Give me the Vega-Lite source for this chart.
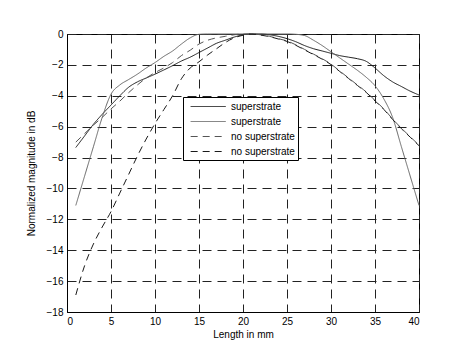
{
  "$schema": "https://vega.github.io/schema/vega-lite/v6.json",
  "width": 352,
  "height": 278,
  "autosize": {"type": "none"},
  "padding": {"left": 67, "top": 34, "right": 40, "bottom": 34},
  "background": "white",
  "config": {
    "view": {"stroke": "black", "strokeWidth": 1},
    "font": "Liberation Sans",
    "axis": {
      "labelFont": "Liberation Sans",
      "labelFontSize": 10,
      "labelColor": "black",
      "titleFont": "Liberation Sans",
      "titleFontSize": 10,
      "titleFontWeight": "normal",
      "titleColor": "black",
      "domainColor": "black",
      "ticks": false,
      "grid": true,
      "gridColor": "#222",
      "gridDash": [9, 6],
      "gridWidth": 1,
      "gridOpacity": 1
    },
    "legend": {
      "orient": "none", "legendX": 116, "legendY": 63, "title": null,
      "symbolType": "M-1,0H5", "symbolSize": 136, "symbolStrokeWidth": 1, "symbolOffset": 4,
      "labelFont": "Liberation Sans", "labelFontSize": 10, "labelColor": "black",
      "strokeColor": "black", "fillColor": "white", "padding": 3, "rowPadding": 3, "labelOffset": 28,
      "labelExpr": "trim(datum.label) + '\u2800\u2800'"
    }
  },
  "data": {
    "values": [
      {"x": 1, "y": -7.35, "s": "superstrate"},
      {"x": 2, "y": -6.6, "s": "superstrate"},
      {"x": 3, "y": -5.85, "s": "superstrate"},
      {"x": 4, "y": -5.2, "s": "superstrate"},
      {"x": 5, "y": -4.6, "s": "superstrate"},
      {"x": 6, "y": -4.0, "s": "superstrate"},
      {"x": 7, "y": -3.45, "s": "superstrate"},
      {"x": 8, "y": -3.1, "s": "superstrate"},
      {"x": 9, "y": -2.85, "s": "superstrate"},
      {"x": 10, "y": -2.6, "s": "superstrate"},
      {"x": 11, "y": -2.33, "s": "superstrate"},
      {"x": 12, "y": -2.05, "s": "superstrate"},
      {"x": 13, "y": -1.75, "s": "superstrate"},
      {"x": 14, "y": -1.5, "s": "superstrate"},
      {"x": 15, "y": -1.2, "s": "superstrate"},
      {"x": 16, "y": -0.9, "s": "superstrate"},
      {"x": 17, "y": -0.6, "s": "superstrate"},
      {"x": 18, "y": -0.4, "s": "superstrate"},
      {"x": 19, "y": -0.2, "s": "superstrate"},
      {"x": 20, "y": -0.05, "s": "superstrate"},
      {"x": 21, "y": 0, "s": "superstrate"},
      {"x": 22, "y": 0, "s": "superstrate"},
      {"x": 23, "y": -0.05, "s": "superstrate"},
      {"x": 24, "y": -0.15, "s": "superstrate"},
      {"x": 25, "y": -0.3, "s": "superstrate"},
      {"x": 26, "y": -0.5, "s": "superstrate"},
      {"x": 27, "y": -0.75, "s": "superstrate"},
      {"x": 28, "y": -0.95, "s": "superstrate"},
      {"x": 29, "y": -1.1, "s": "superstrate"},
      {"x": 30, "y": -1.25, "s": "superstrate"},
      {"x": 31, "y": -1.4, "s": "superstrate"},
      {"x": 32, "y": -1.5, "s": "superstrate"},
      {"x": 33, "y": -1.6, "s": "superstrate"},
      {"x": 34, "y": -1.77, "s": "superstrate"},
      {"x": 35, "y": -2.2, "s": "superstrate"},
      {"x": 36, "y": -2.7, "s": "superstrate"},
      {"x": 37, "y": -3.1, "s": "superstrate"},
      {"x": 38, "y": -3.4, "s": "superstrate"},
      {"x": 39, "y": -3.7, "s": "superstrate"},
      {"x": 40, "y": -3.95, "s": "superstrate"},

      {"x": 1, "y": -11.1, "s": "superstrate "},
      {"x": 2, "y": -9.2, "s": "superstrate "},
      {"x": 3, "y": -7.3, "s": "superstrate "},
      {"x": 4, "y": -5.4, "s": "superstrate "},
      {"x": 5, "y": -3.9, "s": "superstrate "},
      {"x": 6, "y": -3.3, "s": "superstrate "},
      {"x": 7, "y": -2.95, "s": "superstrate "},
      {"x": 8, "y": -2.6, "s": "superstrate "},
      {"x": 9, "y": -2.2, "s": "superstrate "},
      {"x": 10, "y": -1.85, "s": "superstrate "},
      {"x": 11, "y": -1.45, "s": "superstrate "},
      {"x": 12, "y": -1.1, "s": "superstrate "},
      {"x": 13, "y": -0.65, "s": "superstrate "},
      {"x": 14, "y": -0.25, "s": "superstrate "},
      {"x": 15, "y": -0.02, "s": "superstrate "},
      {"x": 16, "y": 0, "s": "superstrate "},
      {"x": 20, "y": 0, "s": "superstrate "},
      {"x": 25, "y": 0, "s": "superstrate "},
      {"x": 26, "y": -0.02, "s": "superstrate "},
      {"x": 27, "y": -0.1, "s": "superstrate "},
      {"x": 28, "y": -0.4, "s": "superstrate "},
      {"x": 29, "y": -0.75, "s": "superstrate "},
      {"x": 30, "y": -1.15, "s": "superstrate "},
      {"x": 31, "y": -1.55, "s": "superstrate "},
      {"x": 32, "y": -1.95, "s": "superstrate "},
      {"x": 33, "y": -2.35, "s": "superstrate "},
      {"x": 34, "y": -2.8, "s": "superstrate "},
      {"x": 35, "y": -3.35, "s": "superstrate "},
      {"x": 36, "y": -4.2, "s": "superstrate "},
      {"x": 37, "y": -5.4, "s": "superstrate "},
      {"x": 38, "y": -7.3, "s": "superstrate "},
      {"x": 39, "y": -9.2, "s": "superstrate "},
      {"x": 40, "y": -11.1, "s": "superstrate "},

      {"x": 1, "y": -7.0, "s": "no superstrate"},
      {"x": 2, "y": -6.45, "s": "no superstrate"},
      {"x": 3, "y": -5.9, "s": "no superstrate"},
      {"x": 4, "y": -5.4, "s": "no superstrate"},
      {"x": 5, "y": -4.85, "s": "no superstrate"},
      {"x": 6, "y": -4.35, "s": "no superstrate"},
      {"x": 7, "y": -3.8, "s": "no superstrate"},
      {"x": 8, "y": -3.3, "s": "no superstrate"},
      {"x": 9, "y": -2.85, "s": "no superstrate"},
      {"x": 10, "y": -2.5, "s": "no superstrate"},
      {"x": 11, "y": -2.2, "s": "no superstrate"},
      {"x": 12, "y": -1.85, "s": "no superstrate"},
      {"x": 13, "y": -1.4, "s": "no superstrate"},
      {"x": 14, "y": -1.05, "s": "no superstrate"},
      {"x": 15, "y": -0.65, "s": "no superstrate"},
      {"x": 16, "y": -0.4, "s": "no superstrate"},
      {"x": 17, "y": -0.25, "s": "no superstrate"},
      {"x": 18, "y": -0.15, "s": "no superstrate"},
      {"x": 19, "y": -0.05, "s": "no superstrate"},
      {"x": 20, "y": 0, "s": "no superstrate"},
      {"x": 21, "y": 0, "s": "no superstrate"},
      {"x": 22, "y": -0.05, "s": "no superstrate"},
      {"x": 23, "y": -0.15, "s": "no superstrate"},
      {"x": 24, "y": -0.3, "s": "no superstrate"},
      {"x": 25, "y": -0.45, "s": "no superstrate"},
      {"x": 26, "y": -0.7, "s": "no superstrate"},
      {"x": 27, "y": -1.0, "s": "no superstrate"},
      {"x": 28, "y": -1.3, "s": "no superstrate"},
      {"x": 29, "y": -1.6, "s": "no superstrate"},
      {"x": 30, "y": -1.95, "s": "no superstrate"},
      {"x": 31, "y": -2.4, "s": "no superstrate"},
      {"x": 32, "y": -2.85, "s": "no superstrate"},
      {"x": 33, "y": -3.3, "s": "no superstrate"},
      {"x": 34, "y": -3.75, "s": "no superstrate"},
      {"x": 35, "y": -4.3, "s": "no superstrate"},
      {"x": 36, "y": -4.85, "s": "no superstrate"},
      {"x": 37, "y": -5.5, "s": "no superstrate"},
      {"x": 38, "y": -6.1, "s": "no superstrate"},
      {"x": 39, "y": -6.65, "s": "no superstrate"},
      {"x": 40, "y": -7.2, "s": "no superstrate"},

      {"x": 1, "y": -16.9, "s": "no superstrate "},
      {"x": 2, "y": -15.0, "s": "no superstrate "},
      {"x": 3, "y": -13.6, "s": "no superstrate "},
      {"x": 4, "y": -12.5, "s": "no superstrate "},
      {"x": 5, "y": -11.5, "s": "no superstrate "},
      {"x": 6, "y": -10.3, "s": "no superstrate "},
      {"x": 7, "y": -9.1, "s": "no superstrate "},
      {"x": 8, "y": -7.9, "s": "no superstrate "},
      {"x": 9, "y": -6.8, "s": "no superstrate "},
      {"x": 10, "y": -5.8, "s": "no superstrate "},
      {"x": 11, "y": -4.9, "s": "no superstrate "},
      {"x": 12, "y": -4.0, "s": "no superstrate "},
      {"x": 13, "y": -2.9, "s": "no superstrate "},
      {"x": 14, "y": -2.2, "s": "no superstrate "},
      {"x": 15, "y": -1.8, "s": "no superstrate "},
      {"x": 16, "y": -1.35, "s": "no superstrate "},
      {"x": 17, "y": -0.95, "s": "no superstrate "},
      {"x": 18, "y": -0.55, "s": "no superstrate "},
      {"x": 19, "y": -0.25, "s": "no superstrate "},
      {"x": 20, "y": -0.08, "s": "no superstrate "},
      {"x": 21, "y": 0, "s": "no superstrate "},
      {"x": 22, "y": -0.07, "s": "no superstrate "},
      {"x": 23, "y": -0.17, "s": "no superstrate "},
      {"x": 24, "y": -0.32, "s": "no superstrate "},
      {"x": 25, "y": -0.48, "s": "no superstrate "},
      {"x": 26, "y": -0.73, "s": "no superstrate "},
      {"x": 27, "y": -1.03, "s": "no superstrate "},
      {"x": 28, "y": -1.33, "s": "no superstrate "},
      {"x": 29, "y": -1.63, "s": "no superstrate "},
      {"x": 30, "y": -1.98, "s": "no superstrate "},
      {"x": 31, "y": -2.43, "s": "no superstrate "},
      {"x": 32, "y": -2.88, "s": "no superstrate "},
      {"x": 33, "y": -3.33, "s": "no superstrate "},
      {"x": 34, "y": -3.78, "s": "no superstrate "},
      {"x": 35, "y": -4.33, "s": "no superstrate "},
      {"x": 36, "y": -4.88, "s": "no superstrate "},
      {"x": 37, "y": -5.53, "s": "no superstrate "},
      {"x": 38, "y": -6.13, "s": "no superstrate "},
      {"x": 39, "y": -6.68, "s": "no superstrate "},
      {"x": 40, "y": -7.23, "s": "no superstrate "}
    ]
  },
  "mark": {"type": "line", "strokeWidth": 1, "interpolate": "monotone"},
  "encoding": {
    "x": {
      "field": "x", "type": "quantitative",
      "scale": {"domain": [0, 40], "nice": false},
      "axis": {"values": [0, 5, 10, 15, 20, 25, 30, 35, 40], "title": "Length in mm", "labelPadding": 4, "titlePadding": 3}
    },
    "y": {
      "field": "y", "type": "quantitative",
      "scale": {"domain": [-18, 0], "nice": false},
      "axis": {"values": [-18, -16, -14, -12, -10, -8, -6, -4, -2, 0], "title": "Normalized magnitude in dB", "labelPadding": 4, "titlePadding": 10}
    },
    "detail": {"field": "s"},
    "color": {
      "field": "s", "type": "nominal",
      "scale": {
        "domain": ["superstrate", "superstrate ", "no superstrate", "no superstrate "],
        "range": ["#1a1a1a", "#666666", "#555555", "#1a1a1a"]
      }
    },
    "strokeDash": {
      "field": "s", "type": "nominal",
      "scale": {
        "domain": ["superstrate", "superstrate ", "no superstrate", "no superstrate "],
        "range": [[1, 0], [1, 0], [7, 5], [7, 5]]
      }
    }
  }
}
